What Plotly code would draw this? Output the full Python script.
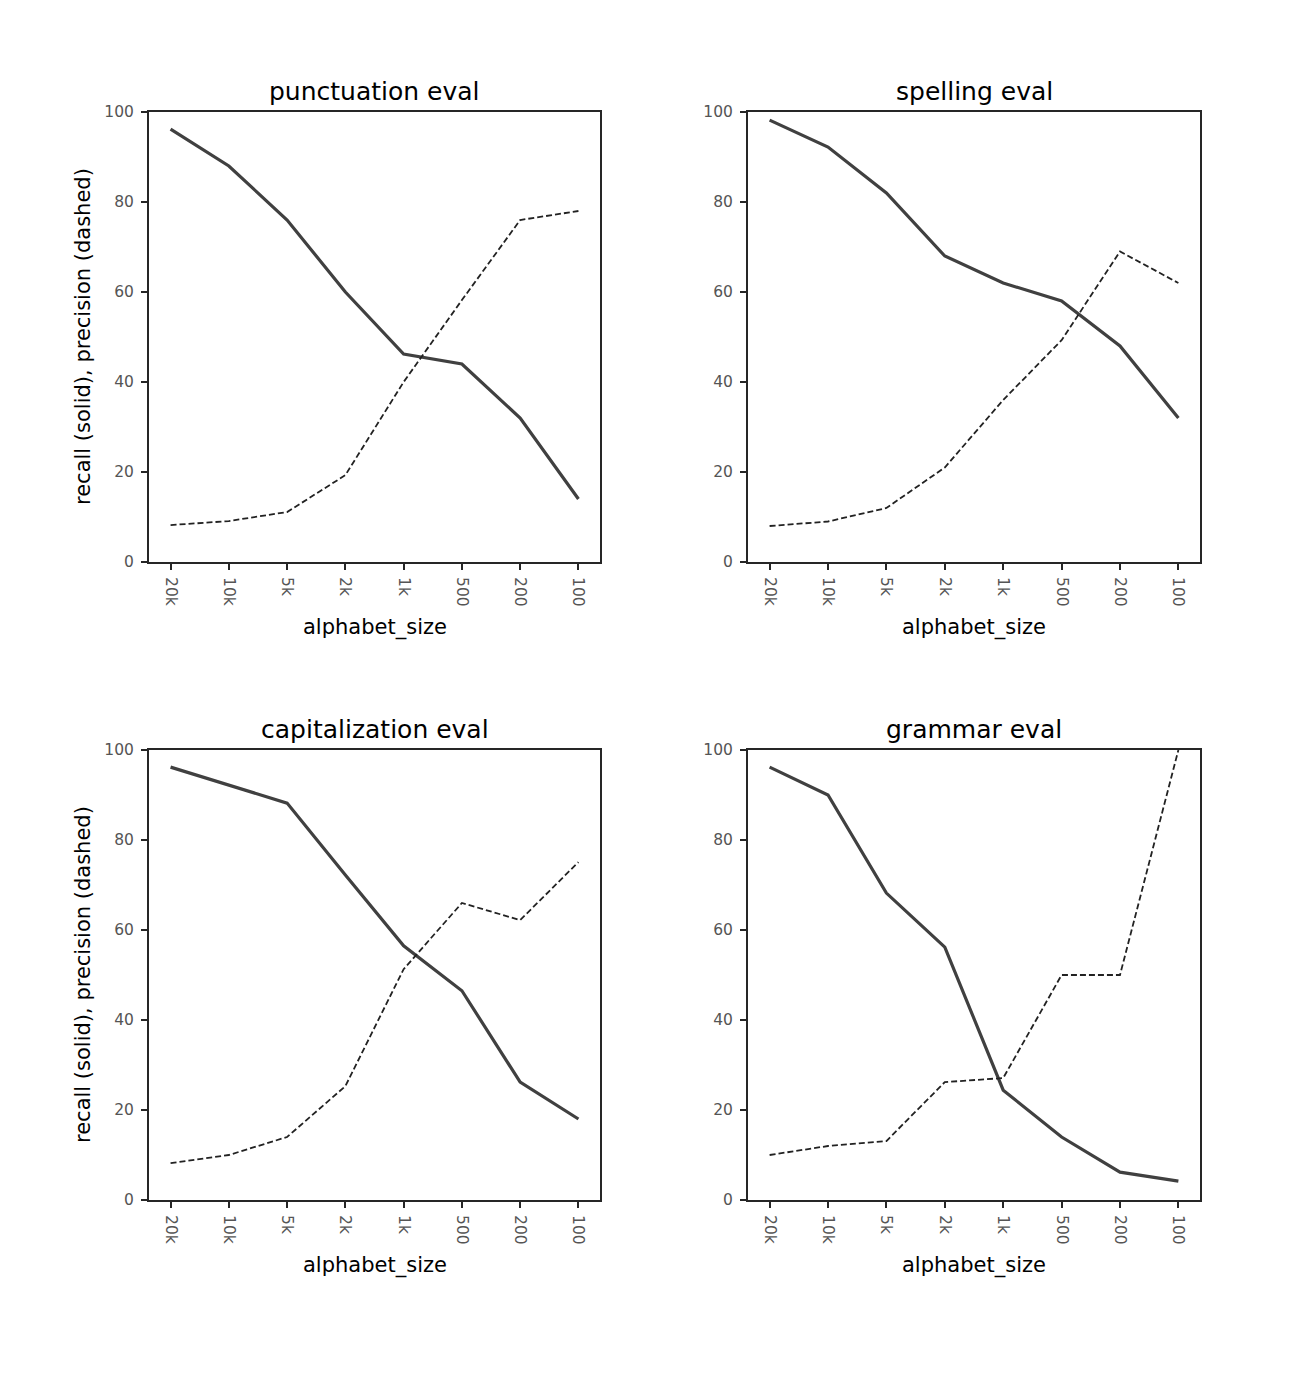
import plotly.graph_objects as go

W, H = 1312, 1387

categories = ["20k", "10k", "5k", "2k", "1k", "500", "200", "100"]
titles = ["punctuation eval", "spelling eval", "capitalization eval", "grammar eval"]

recall = {
    "punctuation eval": [96.2, 88, 76, 60, 46.2, 44, 32, 14],
    "spelling eval": [98.2, 92.2, 82, 68, 62, 58, 48, 32],
    "capitalization eval": [96.2, 92.2, 88.2, 72.2, 56.5, 46.5, 26.2, 18],
    "grammar eval": [96.2, 90, 68.2, 56.2, 24.4, 14, 6.2, 4.2],
}
precision = {
    "punctuation eval": [8.2, 9.1, 11.1, 19.3, 40, 58.2, 76, 78],
    "spelling eval": [8, 9, 12, 21, 36, 49.3, 69, 62],
    "capitalization eval": [8.2, 10, 14, 25.3, 51.3, 66, 62.2, 75.1],
    "grammar eval": [10, 12, 13.1, 26.2, 27.1, 50, 50, 100],
}

# pixel boxes of the four axes: (left, right, top, bottom)
boxes = [(149, 600, 112, 562), (748, 1200, 112, 562),
         (149, 600, 750, 1200), (748, 1200, 750, 1200)]

fig = go.Figure()
annotations = []
font = "DejaVu Sans"
axis_col = "#262626"

for i, t in enumerate(titles):
    l, r, tp, bt = boxes[i]
    n = i + 1
    xa = "x" if n == 1 else f"x{n}"
    ya = "y" if n == 1 else f"y{n}"
    xs = list(range(len(categories)))
    fig.add_trace(go.Scatter(x=xs, y=recall[t], mode="lines", xaxis=xa, yaxis=ya,
                             line=dict(color="#404040", width=3.2), showlegend=False))
    fig.add_trace(go.Scatter(x=xs, y=precision[t], mode="lines", xaxis=xa, yaxis=ya,
                             line=dict(color="#222222", width=1.8, dash="6px,3px"),
                             showlegend=False, cliponaxis=False))
    xdom = [l / W, r / W]
    ydom = [(H - bt) / H, (H - tp) / H]
    common = dict(showline=True, linecolor=axis_col, linewidth=2, mirror=True,
                  ticks="outside", ticklen=6, tickwidth=1.5, tickcolor=axis_col,
                  showgrid=False, zeroline=False, automargin=False,
                  ticklabelstandoff=4,
                  tickfont=dict(family=font, size=15.5, color="#555555"))
    fig.update_layout(**{
        ("xaxis" if n == 1 else f"xaxis{n}"): dict(
            domain=xdom, anchor=ya, range=[-0.37, 7.37], tickmode="array",
            tickvals=xs, ticktext=categories, tickangle=90, **common),
        ("yaxis" if n == 1 else f"yaxis{n}"): dict(
            domain=ydom, anchor=xa, range=[0, 100], tickmode="array",
            tickvals=[0, 20, 40, 60, 80, 100], **common),
    })
    cx = (l + r) / 2 / W
    annotations.append(dict(text=t, x=cx, y=(H - (tp - 4)) / H, xref="paper", yref="paper",
                            xanchor="center", yanchor="bottom", showarrow=False,
                            font=dict(family=font, size=25, color="#000000")))
    annotations.append(dict(text="alphabet_size", x=cx, y=(H - (bt + 65)) / H, xref="paper",
                            yref="paper", xanchor="center", yanchor="middle", showarrow=False,
                            font=dict(family=font, size=21, color="#000000")))
    if l < 300:
        annotations.append(dict(text="recall (solid), precision (dashed)", x=83 / W,
                                y=(H - (tp + bt) / 2) / H, xref="paper", yref="paper",
                                xanchor="center", yanchor="middle", showarrow=False,
                                textangle=-90,
                                font=dict(family=font, size=21, color="#000000")))

fig.update_layout(template="none", width=W, height=H,
                  margin=dict(l=0, r=0, t=0, b=0, pad=0),
                  paper_bgcolor="white", plot_bgcolor="white",
                  annotations=annotations)
fig.write_html("out.html")
